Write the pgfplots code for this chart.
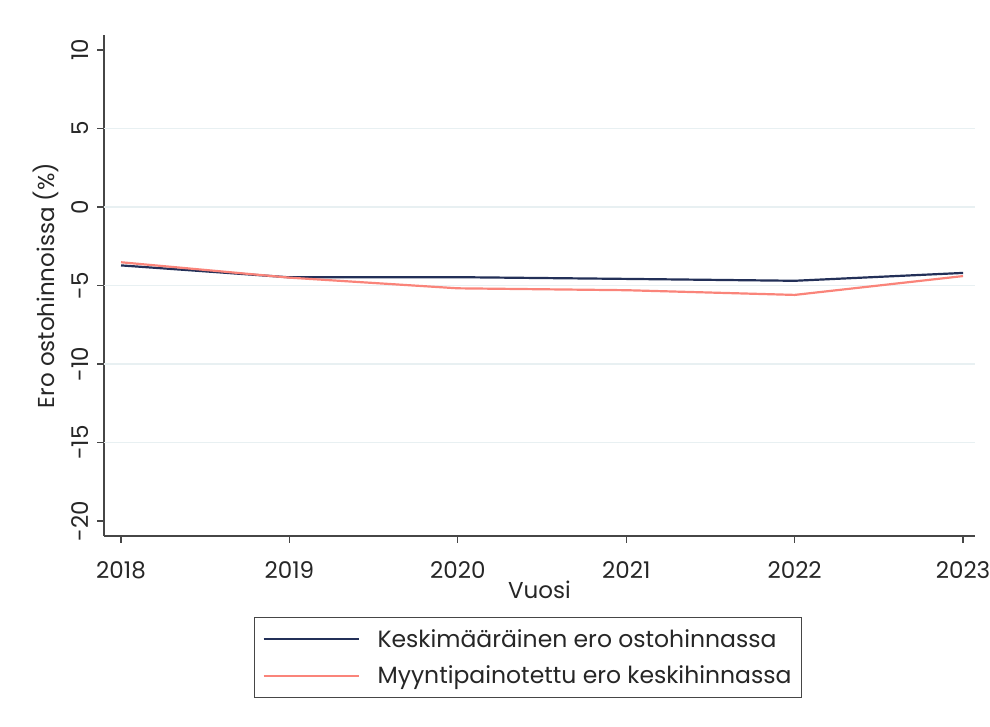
\documentclass[border=0pt]{standalone}
\usepackage{pgfplots}
\pgfplotsset{compat=1.18}
\usepackage{fontspec}
\setmainfont{Poppins}
\definecolor{navyline}{RGB}{35,48,88}
\definecolor{salmonline}{RGB}{250,132,122}
\definecolor{gridc}{RGB}{232,240,242}
\definecolor{axc}{RGB}{70,70,70}
\begin{document}
\begin{tikzpicture}[x=1pt,y=1pt]
\useasboundingbox (0,0) rectangle (990,727);
\begin{axis}[
  at={(104pt,191pt)}, anchor=south west,
  scale only axis, width=871pt, height=501pt,
  xmin=2017.899, xmax=2023.071,
  ymin=-20.955, ymax=10.955,
  axis x line*=bottom, axis y line*=left,
  axis line style={axc, line width=1.2pt, -},
  xtick={2018,2019,2020,2021,2022,2023},
  xticklabels={2018,2019,2020,2021,2022,2023},
  ytick={-20,10},
  extra y ticks={-15,-10,-5,0,5},
  extra y tick style={ymajorgrids=true, major grid style={gridc, line width=1.2pt}},
  tick align=outside, major tick length=7pt,
  every tick/.style={axc, line width=1.2pt},
  tick label style={font=\fontsize{23}{27}\selectfont, text=black!85},
  yticklabel style={rotate=90, anchor=south},
  xticklabel shift=15pt, yticklabel shift=5pt,
  /pgf/number format/assume math mode=true,
  /pgf/number format/1000 sep={},
  xlabel={Vuosi}, ylabel={Ero ostohinnoissa (\%)},
  label style={font=\fontsize{23}{27}\selectfont, text=black!85},
  xlabel style={yshift=5pt},
  ylabel style={yshift=-18pt},
  legend style={at={(0.4868,-0.1617)}, anchor=north, draw=axc, line width=0.9pt,
    font=\fontsize{23.5}{27}\selectfont, text=black!85,
    inner xsep=8pt, inner ysep=10pt, row sep=13pt, cells={anchor=west},
    /tikz/every odd column/.append style={column sep=16pt}},
  legend cell align=left,
  legend image code/.code={\draw[#1, line width=2pt] (0pt,0pt) -- (95pt,0pt);},
]
\addplot[navyline, line width=2.2pt] coordinates {
(2018,-3.72) (2019,-4.48) (2020,-4.47) (2021,-4.58) (2022,-4.7) (2023,-4.2)};
\addlegendentry{Keskimääräinen ero ostohinnassa}
\addplot[salmonline, line width=2.2pt] coordinates {
(2018,-3.52) (2019,-4.5) (2020,-5.18) (2021,-5.3) (2022,-5.6) (2023,-4.4)};
\addlegendentry{Myyntipainotettu ero keskihinnassa}
\end{axis}
\end{tikzpicture}
\end{document}
